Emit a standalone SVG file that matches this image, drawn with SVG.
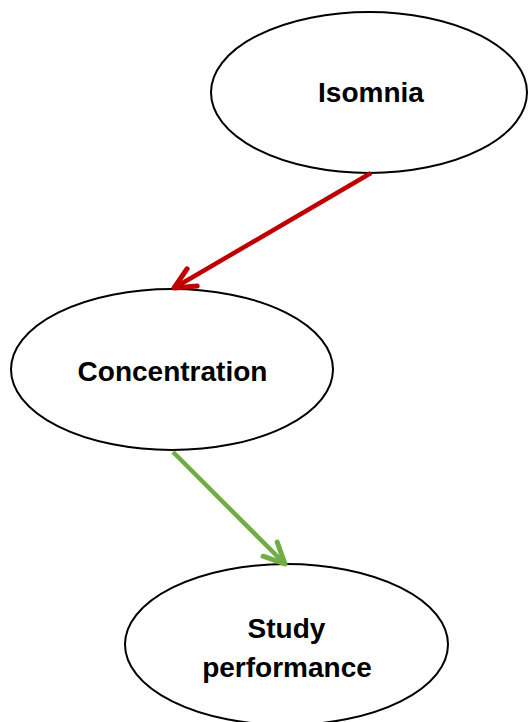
<svg xmlns="http://www.w3.org/2000/svg" width="528" height="722" viewBox="0 0 528 722">
  <style>
    .node ellipse { fill: #ffffff; stroke: #000000; stroke-width: 2; }
    .node text { font-family: "Liberation Sans", Arial, sans-serif; font-weight: bold; font-size: 28px; fill: #000000; text-anchor: middle; }
    .edge { fill: none; stroke-width: 4.5; }
  </style>
  <defs>
    <marker id="headRed" markerUnits="userSpaceOnUse" viewBox="-30 -20 40 40" markerWidth="40" markerHeight="40" refX="0" refY="0" orient="auto">
      <path d="M-21,-10 L0,0 L-21,10" fill="none" stroke="#C00000" stroke-width="5" stroke-linecap="round" stroke-linejoin="round"/>
    </marker>
    <marker id="headGreen" markerUnits="userSpaceOnUse" viewBox="-30 -20 40 40" markerWidth="40" markerHeight="40" refX="0" refY="0" orient="auto">
      <path d="M-21,-10 L0,0 L-21,10" fill="none" stroke="#70AD47" stroke-width="5" stroke-linecap="round" stroke-linejoin="round"/>
    </marker>
  </defs>

  <rect width="528" height="722" fill="#ffffff"/>

  <g id="node-isomnia" class="node">
    <ellipse cx="369" cy="92.5" rx="158" ry="80.5"/>
    <text x="371" y="102">Isomnia</text>
  </g>

  <g id="node-concentration" class="node">
    <ellipse cx="172" cy="369.5" rx="161" ry="80.5"/>
    <text x="172.5" y="381">Concentration</text>
  </g>

  <g id="node-study" class="node">
    <ellipse cx="286.5" cy="644.5" rx="161.5" ry="80.5"/>
    <text x="286.5" y="638">Study</text>
    <text x="287" y="677">performance</text>
  </g>

  <g id="connectors">
    <line class="edge" x1="371" y1="173" x2="174" y2="288" stroke="#C00000" marker-end="url(#headRed)"/>
    <line class="edge" x1="173" y1="452" x2="285" y2="564" stroke="#70AD47" marker-end="url(#headGreen)"/>
  </g>
</svg>
